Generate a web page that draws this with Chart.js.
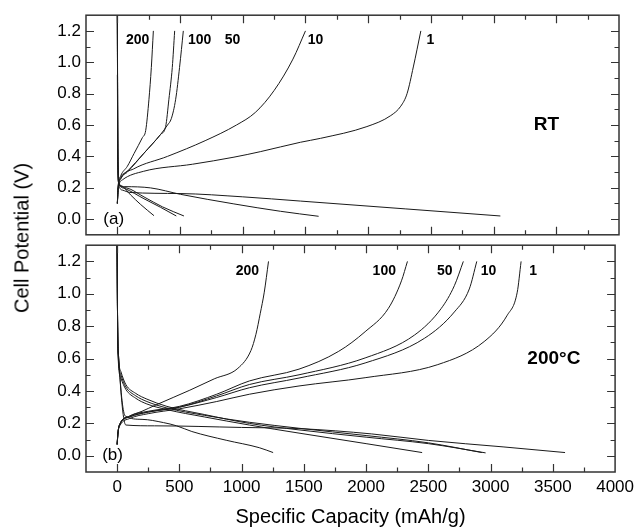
<!DOCTYPE html>
<html><head><meta charset="utf-8">
<script src="https://cdn.jsdelivr.net/npm/chart.js@4.4.1/dist/chart.umd.min.js"></script>
<style>
html,body{margin:0;padding:0;background:#fff;}
#wrap{position:relative;width:639px;height:530px;overflow:hidden;font-family:"Liberation Sans",Arial,sans-serif;}
#top{position:absolute;left:0;top:0;}
#bot{position:absolute;left:0;top:230px;}
#ytitle{position:absolute;left:22px;top:238px;transform:translate(-50%,-50%) rotate(-90deg);font-size:20px;white-space:nowrap;color:#000;}
</style></head><body>
<div id="wrap">
<canvas id="bot" width="639" height="300"></canvas>
<canvas id="top" width="639" height="250"></canvas>
<div id="ytitle">Cell Potential (V)</div>
</div>
<script>
// ---- axes ----
const xTicks = [0, 500, 1000, 1500, 2000, 2500, 3000, 3500, 4000];
const yTicks = [0.0, 0.2, 0.4, 0.6, 0.8, 1.0, 1.2];
const xRange = [-250, 4000];
const yRange = [-0.1, 1.3];
const rates = ['1', '10', '50', '100', '200'];

// ---- (a) RT : discharge (capacity mAh/g, potential V) ----
const rtDis1   = [[0,1.3],[4,0.5],[12,0.22],[40,0.185],[100,0.17],[500,0.163],[1000,0.142],[1460,0.115],[2300,0.065],[3054,0.02]];
const rtDis10  = [[0,0.92],[4,0.4],[15,0.215],[60,0.207],[265,0.199],[504,0.158],[929,0.097],[1300,0.05],[1605,0.018]];
const rtDis50  = [[0,1.3],[4,0.35],[12,0.225],[70,0.2],[220,0.138],[360,0.078],[531,0.02]];
const rtDis100 = [[0,1.3],[4,0.35],[12,0.225],[60,0.195],[212,0.13],[345,0.075],[470,0.02]];
const rtDis200 = [[0,1.3],[4,0.35],[12,0.23],[40,0.21],[106,0.154],[186,0.093],[292,0.022]];
// ---- (a) RT : charge ----
const rtChg1   = [[0,0.1],[8,0.2],[40,0.25],[210,0.305],[600,0.35],[930,0.395],[1140,0.43],[1460,0.49],[1620,0.515],[1990,0.59],[2180,0.66],[2260,0.72],[2310,0.8],[2360,0.97],[2420,1.2]];
const rtChg10  = [[0,0.1],[8,0.2],[30,0.26],[130,0.32],[400,0.4],[700,0.5],[950,0.6],[1100,0.68],[1250,0.82],[1400,1.02],[1500,1.2]];
const rtChg50  = [[0,0.1],[6,0.2],[27,0.26],[80,0.3],[212,0.42],[345,0.54],[400,0.6],[430,0.64],[465,0.764],[496,0.967],[526,1.2]];
const rtChg100 = [[0,0.1],[6,0.2],[27,0.265],[80,0.305],[212,0.42],[345,0.54],[385,0.59],[411,0.764],[438,0.967],[457,1.2]];
const rtChg200 = [[0,0.1],[5,0.2],[27,0.276],[80,0.337],[133,0.418],[200,0.52],[226,0.565],[252,0.764],[271,0.967],[287,1.2]];

// ---- (b) 200°C : discharge ----
const htDis1   = [[0,1.3],[4,0.8],[13,0.6],[70,0.19],[300,0.185],[1000,0.175],[1460,0.168],[2045,0.135],[2500,0.095],[3100,0.055],[3598,0.02]];
const htDis10  = [[0,1.3],[3,0.9],[8,0.65],[30,0.52],[70,0.44],[150,0.385],[239,0.35],[400,0.305],[700,0.255],[1062,0.2],[1461,0.16],[2000,0.115],[2500,0.075],[2960,0.018]];
const htDis50  = [[0,1.3],[3,0.9],[8,0.63],[30,0.5],[70,0.425],[150,0.37],[239,0.335],[400,0.295],[700,0.25],[1062,0.207],[1461,0.17],[2000,0.125],[2500,0.08],[2930,0.02]];
const htDis100 = [[0,1.3],[3,0.9],[8,0.61],[30,0.48],[70,0.41],[150,0.355],[239,0.32],[400,0.285],[700,0.24],[1062,0.19],[1461,0.14],[2000,0.075],[2450,0.02]];
const htDis200 = [[0,1.3],[4,0.8],[13,0.6],[66,0.245],[200,0.225],[372,0.205],[478,0.185],[600,0.15],[876,0.096],[1142,0.05],[1253,0.02]];
// ---- (b) 200°C : charge ----
const htChg1   = [[0,0.07],[8,0.15],[25,0.19],[100,0.23],[250,0.26],[500,0.29],[800,0.335],[1062,0.38],[1461,0.431],[1992,0.482],[2576,0.563],[2948,0.705],[3134,0.868],[3214,1.01],[3245,1.2]];
const htChg10  = [[0,0.07],[8,0.15],[25,0.2],[100,0.24],[250,0.27],[500,0.3],[800,0.36],[1062,0.42],[1461,0.48],[1992,0.573],[2470,0.726],[2709,0.888],[2829,1.03],[2889,1.2]];
const htChg50  = [[0,0.07],[8,0.15],[25,0.2],[100,0.24],[250,0.27],[500,0.3],[800,0.37],[1062,0.44],[1461,0.5],[1992,0.604],[2390,0.746],[2603,0.909],[2709,1.05],[2781,1.2]];
const htChg100 = [[0,0.07],[8,0.15],[25,0.2],[100,0.245],[250,0.275],[500,0.305],[800,0.38],[1062,0.462],[1461,0.535],[1780,0.645],[1992,0.766],[2178,0.909],[2284,1.08],[2332,1.2]];
const htChg200 = [[0,0.07],[8,0.15],[25,0.2],[100,0.245],[200,0.275],[300,0.31],[450,0.36],[584,0.405],[780,0.475],[970,0.54],[1075,0.65],[1115,0.75],[1150,0.88],[1182,1.01],[1216,1.2]];

// ---- text annotations (data coordinates) ----
const labelsRT = [
  {t:'200', x:162, y:1.142, f:'bold 14px "Liberation Sans", Arial'},
  {t:'100', x:656, y:1.142, f:'bold 14px "Liberation Sans", Arial'},
  {t:'50', x:919, y:1.142, f:'bold 14px "Liberation Sans", Arial'},
  {t:'10', x:1580, y:1.142, f:'bold 14px "Liberation Sans", Arial'},
  {t:'1', x:2496, y:1.142, f:'bold 14px "Liberation Sans", Arial'},
  {t:'RT', x:3421, y:0.599, f:'bold 19px "Liberation Sans", Arial'},
  {t:'(a)', x:-29, y:0.0, f:'17px "Liberation Sans", Arial'}
];
const labelsHT = [
  {t:'200', x:1046, y:1.138, f:'bold 14px "Liberation Sans", Arial'},
  {t:'100', x:2146, y:1.138, f:'bold 14px "Liberation Sans", Arial'},
  {t:'50', x:2632, y:1.138, f:'bold 14px "Liberation Sans", Arial'},
  {t:'10', x:2983, y:1.138, f:'bold 14px "Liberation Sans", Arial'},
  {t:'1', x:3341, y:1.138, f:'bold 14px "Liberation Sans", Arial'},
  {t:'200°C', x:3508, y:0.602, f:'bold 19px "Liberation Sans", Arial'},
  {t:'(b)', x:-37, y:0.004, f:'17px "Liberation Sans", Arial'}
];

const rtSeries = [rtDis1, rtDis10, rtDis50, rtDis100, rtDis200, rtChg1, rtChg10, rtChg50, rtChg100, rtChg200];
const htSeries = [htDis1, htDis10, htDis50, htDis100, htDis200, htChg1, htChg10, htChg50, htChg100, htChg200];

const FONT = '"Liberation Sans", Arial, Helvetica, sans-serif';

const framePlugin = {
  id: 'frame',
  afterDatasetsDraw(chart, args, opts) {
    const {ctx, chartArea: a, scales} = chart;
    const xs = scales.x, ys = scales.y;
    ctx.save();
    ctx.strokeStyle = '#333';
    ctx.lineWidth = 1.2;
    ctx.beginPath();
    const major = 8, minor = 4.5;
    for (let k = -1; k <= 16; k++) {
      const v = k * 250;
      if (v <= xRange[0] || v >= xRange[1]) continue;
      const px = Math.round(xs.getPixelForValue(v)) + 0.5;
      const len = (k % 2 === 0) ? major : minor;
      ctx.moveTo(px, a.top); ctx.lineTo(px, a.top + len);
      ctx.moveTo(px, a.bottom); ctx.lineTo(px, a.bottom - len);
    }
    for (let k = -1; k <= 13; k++) {
      const v = k / 10;
      if (v <= yRange[0] + 1e-9 || v >= yRange[1] - 1e-9) continue;
      const py = Math.round(ys.getPixelForValue(v)) + 0.5;
      const len = (Math.abs(k) % 2 === 0) ? major : minor;
      ctx.moveTo(a.left, py); ctx.lineTo(a.left + len, py);
      ctx.moveTo(a.right, py); ctx.lineTo(a.right - len, py);
    }
    ctx.stroke();
    ctx.lineWidth = 1.5;
    ctx.strokeRect(a.left, a.top, a.right - a.left, a.bottom - a.top);
    ctx.fillStyle = '#000';
    ctx.textAlign = 'center';
    ctx.textBaseline = 'middle';
    (opts.labels || []).forEach(l => {
      ctx.font = l.f;
      ctx.fillText(l.t, xs.getPixelForValue(l.x), ys.getPixelForValue(l.y));
    });
    ctx.restore();
  }
};

function makeDatasets(series) {
  return series.map((s, i) => ({
    label: (i < 5 ? 'discharge ' : 'charge ') + rates[i % 5],
    data: s.map(p => ({x: p[0], y: p[1]})),
    showLine: true,
    borderColor: '#1a1a1a',
    borderWidth: 1,
    pointRadius: 0,
    fill: false,
    cubicInterpolationMode: 'monotone'
  }));
}

function yScale() {
  return {
    type: 'linear', min: yRange[0], max: yRange[1],
    afterBuildTicks: s => { s.ticks = yTicks.map(v => ({value: v})); },
    afterFit: s => { s.width = 86; },
    grid: {display: false, drawTicks: false},
    border: {display: false},
    ticks: {color: '#000', padding: 5, font: {family: FONT, size: 17}, callback: v => Number(v).toFixed(1)}
  };
}

new Chart(document.getElementById('top'), {
  type: 'scatter',
  data: {datasets: makeDatasets(rtSeries)},
  options: {
    responsive: false, animation: false,
    layout: {padding: {top: 12, bottom: 9, left: 0, right: 20}},
    plugins: {legend: {display: false}, tooltip: {enabled: false}, frame: {labels: labelsRT}},
    scales: {
      x: {type: 'linear', min: xRange[0], max: xRange[1], display: false},
      y: yScale()
    }
  },
  plugins: [framePlugin]
});

new Chart(document.getElementById('bot'), {
  type: 'scatter',
  data: {datasets: makeDatasets(htSeries)},
  options: {
    responsive: false, animation: false,
    layout: {padding: {top: 11, bottom: 1, left: 0, right: 20}},
    plugins: {legend: {display: false}, tooltip: {enabled: false}, frame: {labels: labelsHT}},
    scales: {
      x: {
        type: 'linear', min: xRange[0], max: xRange[1],
        afterBuildTicks: s => { s.ticks = xTicks.map(v => ({value: v})); },
        afterFit: s => { s.height = 57; },
        grid: {display: false, drawTicks: false},
        border: {display: false},
        ticks: {color: '#000', padding: 5, maxRotation: 0, autoSkip: false, font: {family: FONT, size: 17}, callback: v => String(v)},
        title: {display: true, text: 'Specific Capacity (mAh/g)', color: '#000', font: {family: FONT, size: 20}, padding: {top: 0, bottom: 0}}
      },
      y: yScale()
    }
  },
  plugins: [framePlugin]
});
</script>
</body></html>
